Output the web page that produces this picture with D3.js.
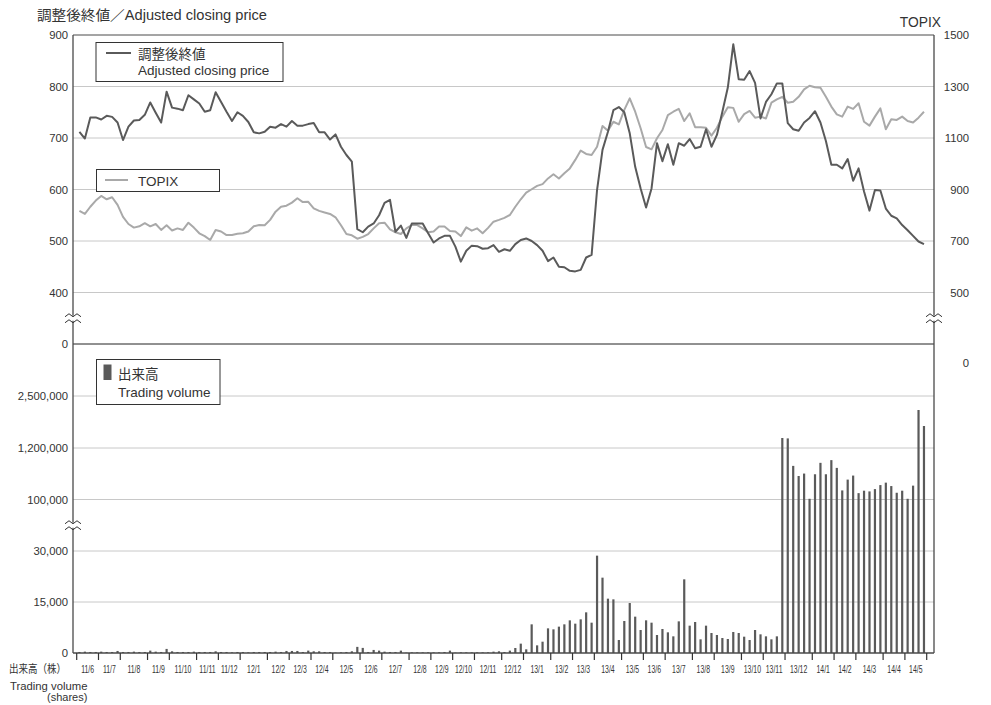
<!DOCTYPE html>
<html><head><meta charset="utf-8">
<script src="https://cdn.jsdelivr.net/npm/d3@7"></script>
<style>
body{margin:0;background:#fff}
svg{display:block}
text{font-family:"Liberation Sans",Arial,"Noto Sans CJK JP",sans-serif;fill:#333}
</style>
</head><body><svg id="c" width="991" height="705"></svg>
<script>
// ---- category axis (weekly data, month labels) ----
const monthLabels = ["11/6","11/7","11/8","11/9","11/10","11/11","11/12",
  "12/1","12/2","12/3","12/4","12/5","12/6","12/7","12/8","12/9","12/10","12/11","12/12",
  "13/1","13/2","13/3","13/4","13/5","13/6","13/7","13/8","13/9","13/10","13/11","13/12",
  "14/1","14/2","14/3","14/4","14/5"];
const monthWeeks = [4,4,5,4,5,4,4, 5,4,4,4,5,4,5,4,4,4,5,4, 5,4,4,5,4,4,5,4,5,4,4,5, 4,4,5,4,4];

// ---- series ----
const price = [712,699,740,740,736,743,741,730,696,722,734,735,745,769,749,730,790,759,757,754,
  783,775,767,751,754,789,770,751,733,750,743,731,711,709,712,722,720,727,722,733,
  724,724,727,729,711,711,697,707,683,667,654,523,517,
  528,534,550,574,580,518,530,506,534,534,534,515,497,505,510,510,489,460,481,491,
  490,485,486,492,479,484,481,494,502,505,500,492,481,461,468,450,449,442,441,444,
  468,473,599,677,712,754,760,750,709,644,602,565,
  602,690,655,688,648,690,685,698,680,683,717,683,706,751,798,882,814,813,830,807,
  738,770,785,806,806,729,717,714,730,739,752,730,694,648,648,641,659,617,641,596,
  559,599,598,563,549,544,531,521,510,499,494];

const topix = [817,805,833,857,875,862,870,840,794,766,752,757,769,757,766,743,761,741,749,743,
  771,752,730,719,704,743,737,723,723,728,730,737,757,762,761,782,814,833,837,849,
  866,851,852,827,817,811,805,792,761,727,722,709,716,
  727,749,769,771,745,734,727,749,762,762,749,734,737,756,756,739,737,719,753,740,
  749,730,751,775,782,790,801,833,862,888,901,914,921,943,959,943,963,982,1015,1051,
  1038,1034,1066,1147,1128,1163,1153,1209,1254,1202,1138,1065,
  1056,1099,1131,1189,1202,1213,1166,1196,1142,1142,1140,1109,1140,1183,1219,1217,1163,1193,1205,1179,
  1183,1176,1237,1250,1260,1237,1241,1260,1289,1303,1297,1295,1260,1222,1192,1183,1222,1213,1235,1163,
  1148,1183,1215,1134,1173,1170,1183,1166,1160,1179,1202];

const volume = [300,400,300,300,400,300,300,600,300,300,
  400,300,300,700,400,300,1200,500,300,300,
  300,400,300,300,300,500,300,300,200,300,
  300,200,300,300,300,300,400,
  300,600,600,600,300,700,500,500,300,300,
  100,200,300,500,1800,1500,300,900,700,400,
  300,300,700,100,200,200,200,200,200,200,
  300,700,100,200,200,200,200,200,200,400,
  500,300,700,1470,2750,1080,
  8430,2250,3330,7250,6960,7750,8430,9600,8630,9900,11960,8920,28630,22160,15980,15780,3820,9410,14700,10690,
  6760,9610,8920,5290,7060,6080,4900,9310,21670,8040,9120,4020,8040,5880,5290,4410,4120,6180,5880,
  4800,3820,6760,5490,4900,4020,4900,
  1450000,1440000,818000,602000,654000,115000,639000,883000,639000,941000,775000,294000,525000,611000,
  236000,288000,273000,322000,408000,460000,387000,244000,288000,115000,396000,2150000,1750000];

const priceTicks = [0,400,500,600,700,800,900];
const topixTicks = [0,500,700,900,1100,1300,1500];
const volumeTicks = [0,15000,30000,100000,1200000,2500000];

// ---- layout ----
const L = 73, R = 934, T = 35, B = 653, SEP = 344;
const svg = d3.select("#c");
const DARK = "#5a5a5a", LIGHT = "#a9a9a9", GRID = "#c8c8c8", AX = "#4a4a4a";

const x = d3.scaleBand().domain(d3.range(price.length)).range([76.7, 926.7]).paddingInner(0);
const cx = i => x(i) + x.bandwidth() / 2;
const yP = d3.scaleLinear().domain([0, 400, 900]).range([SEP, 292.5, T]);
const yT = d3.scaleLinear().domain([0, 500, 1500]).range([363, 292.5, T]);
const yV = d3.scaleLinear().domain(volumeTicks).range([B, 602, 551, 499.5, 448, 396]);

// gridlines
const gridVals = priceTicks.filter(v => v > 0 && v < 900).map(v => yP(v))
  .concat(volumeTicks.filter(v => v > 0).map(v => yV(v)));
svg.append("g").selectAll("line").data(gridVals).join("line")
  .attr("x1", L).attr("x2", R).attr("y1", d => d).attr("y2", d => d)
  .attr("stroke", GRID).attr("stroke-width", 1);

// frame
svg.append("line").attr("x1", L).attr("x2", R).attr("y1", yP(900)).attr("y2", yP(900)).attr("stroke", AX);
svg.append("line").attr("x1", L).attr("x2", R).attr("y1", yP(0)).attr("y2", yP(0)).attr("stroke", "#222");
svg.append("line").attr("x1", L).attr("x2", L).attr("y1", T).attr("y2", B).attr("stroke", AX).attr("stroke-width", 1.3);
svg.append("line").attr("x1", R).attr("x2", R).attr("y1", T).attr("y2", B).attr("stroke", AX).attr("stroke-width", 1.3);

// bars
svg.append("g").selectAll("rect").data(volume).join("rect")
  .attr("x", (d, i) => cx(i) - 1.1).attr("width", 2.2)
  .attr("y", d => yV(d)).attr("height", d => B - yV(d))
  .attr("fill", DARK);

// x axis
svg.append("line").attr("x1", L).attr("x2", R).attr("y1", B).attr("y2", B).attr("stroke", AX).attr("stroke-width", 1.3);
const starts = [];
let acc = 0;
monthWeeks.forEach(w => { starts.push(acc); acc += w; });
const tickX = starts.map(s => x(s)).concat([x.range()[1]]);
svg.append("g").selectAll("line").data(tickX).join("line")
  .attr("x1", d => d).attr("x2", d => d).attr("y1", B).attr("y2", B + 7)
  .attr("stroke", "#333").attr("stroke-width", 1.2);
svg.append("g").selectAll("text").data(monthLabels).join("text")
  .attr("transform", (d, i) => `translate(${(tickX[i] + tickX[i + 1]) / 2},673) scale(0.6,1)`)
  .attr("text-anchor", "middle")
  .attr("font-size", 11.5)
  .text(d => d);

// lines
const lineP = d3.line().x((d, i) => cx(i)).y(d => yP(d));
const lineT = d3.line().x((d, i) => cx(i)).y(d => yT(d));
svg.append("path").attr("d", lineT(topix)).attr("fill", "none").attr("stroke", LIGHT).attr("stroke-width", 2).attr("stroke-linejoin", "round");
svg.append("path").attr("d", lineP(price)).attr("fill", "none").attr("stroke", DARK).attr("stroke-width", 2).attr("stroke-linejoin", "round");

// axis labels
const fmt = d3.format(",");
svg.append("g").selectAll("text").data(priceTicks).join("text")
  .attr("x", 68).attr("y", d => yP(d) + 4).attr("text-anchor", "end").attr("font-size", 11.3)
  .text(d => d);
svg.append("g").selectAll("text").data(volumeTicks.filter(v => v > 0)).join("text")
  .attr("x", 68).attr("y", d => yV(d) + 4).attr("text-anchor", "end").attr("font-size", 11.3)
  .text(d => fmt(d));
svg.append("text").attr("x", 68).attr("y", yV(0) + 4).attr("text-anchor", "end").attr("font-size", 11.3).text("0");
svg.append("g").selectAll("text").data(topixTicks).join("text")
  .attr("x", 969).attr("y", d => yT(d) + 4).attr("text-anchor", "end").attr("font-size", 11.3)
  .text(d => d);

// breaks
function brk(xc, yc) {
  const g = svg.append("g");
  g.append("rect").attr("x", xc - 8).attr("y", yc - 2.5).attr("width", 16).attr("height", 5).attr("fill", "#fff");
  [yc - 3, yc + 3].forEach(yy => {
    g.append("path").attr("d", `M${xc-8},${yy+1.5} L${xc-4},${yy-1.5} L${xc},${yy+1.5} L${xc+4},${yy-1.5} L${xc+8},${yy+1.5}`)
      .attr("fill", "none").attr("stroke", "#333").attr("stroke-width", 1);
  });
}
const pBreak = (yP(0) + yP(400)) / 2;
brk(L, pBreak); brk(R, pBreak);
brk(L, (yV(30000) + yV(100000)) / 2);

// titles
svg.append("text").attr("x", 37).attr("y", 20).attr("font-size", 14).attr("textLength", 230).attr("lengthAdjust", "spacingAndGlyphs")
  .text("調整後終値／Adjusted closing price");
svg.append("text").attr("x", 941).attr("y", 27).attr("text-anchor", "end").attr("font-size", 13.8).text("TOPIX");

// legends
const lg1 = svg.append("g");
lg1.append("rect").attr("x", 96).attr("y", 42.5).attr("width", 187).attr("height", 39).attr("fill", "#fff").attr("stroke", "#333");
lg1.append("line").attr("x1", 106).attr("x2", 131).attr("y1", 53).attr("y2", 53).attr("stroke", DARK).attr("stroke-width", 2);
lg1.append("text").attr("x", 138).attr("y", 58.5).attr("font-size", 13.5).text("調整後終値");
lg1.append("text").attr("x", 138).attr("y", 75).attr("font-size", 13.5).text("Adjusted closing price");

const lg2 = svg.append("g");
lg2.append("rect").attr("x", 96.5).attr("y", 169.5).attr("width", 123).attr("height", 22).attr("fill", "#fff").attr("stroke", "#333");
lg2.append("line").attr("x1", 105).attr("x2", 128).attr("y1", 180).attr("y2", 180).attr("stroke", LIGHT).attr("stroke-width", 2);
lg2.append("text").attr("x", 138).attr("y", 186).attr("font-size", 13.5).text("TOPIX");

const lg3 = svg.append("g");
lg3.append("rect").attr("x", 96.5).attr("y", 359.5).attr("width", 123.5).attr("height", 45).attr("fill", "#fff").attr("stroke", "#333");
lg3.append("rect").attr("x", 103.5).attr("y", 364.5).attr("width", 8).attr("height", 15.5).attr("fill", DARK);
lg3.append("text").attr("x", 118).attr("y", 378.5).attr("font-size", 13.5).text("出来高");
lg3.append("text").attr("x", 118).attr("y", 396.5).attr("font-size", 13.5).text("Trading volume");

// bottom-left axis title
svg.append("text").attr("x", 9).attr("y", 673).attr("font-size", 11.5).attr("textLength", 57).attr("lengthAdjust", "spacingAndGlyphs").text("出来高（株）");
svg.append("text").attr("x", 10).attr("y", 690).attr("font-size", 11.3).text("Trading volume");
svg.append("text").attr("x", 47).attr("y", 701).attr("font-size", 11).text("(shares)");
</script>
</body></html>
